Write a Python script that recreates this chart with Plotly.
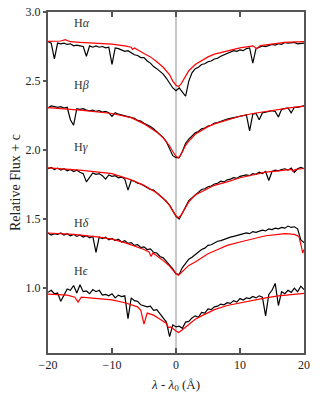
import plotly.graph_objects as go

# wavelength offset grid (Angstrom) for the observed spectra
wave = [-20, -19.5, -19, -18.5, -18, -17.5, -17, -16.5, -16, -15.5,
        -15, -14.5, -14, -13.5, -13, -12.5, -12, -11.5, -11, -10.5,
        -10, -9.5, -9, -8.5, -8, -7.5, -7, -6.5, -6, -5.5,
        -5, -4.5, -4, -3.5, -3, -2.5, -2, -1.5, -1, -0.5,
        0, 0.5, 1, 1.5, 2, 2.5, 3, 3.5, 4, 4.5,
        5, 5.5, 6, 6.5, 7, 7.5, 8, 8.5, 9, 9.5,
        10, 10.5, 11, 11.5, 12, 12.5, 13, 13.5, 14, 14.5,
        15, 15.5, 16, 16.5, 17, 17.5, 18, 18.5, 19, 19.5, 20]

# observed (black)
ha_obs = [2.785, 2.775, 2.66, 2.775, 2.77, 2.775, 2.765, 2.77, 2.755, 2.76,
          2.755, 2.75, 2.68, 2.755, 2.745, 2.755, 2.745, 2.75, 2.74, 2.745,
          2.62, 2.74, 2.735, 2.725, 2.715, 2.72, 2.705, 2.69, 2.685, 2.67,
          2.67, 2.645, 2.63, 2.605, 2.59, 2.57, 2.55, 2.52, 2.48, 2.45,
          2.43, 2.45, 2.42, 2.39, 2.50, 2.56, 2.59, 2.60, 2.62, 2.625,
          2.64, 2.645, 2.66, 2.665, 2.68, 2.69, 2.70, 2.705, 2.72, 2.715,
          2.725, 2.72, 2.735, 2.74, 2.63, 2.735, 2.745, 2.755, 2.75, 2.76,
          2.765, 2.76, 2.77, 2.765, 2.78, 2.775, 2.775, 2.78, 2.77, 2.775, 2.775]
hb_obs = [2.305, 2.32, 2.315, 2.31, 2.315, 2.305, 2.31, 2.22, 2.18, 2.30,
          2.295, 2.30, 2.29, 2.285, 2.29, 2.28, 2.285, 2.275, 2.28, 2.27,
          2.245, 2.27, 2.26, 2.255, 2.25, 2.245, 2.235, 2.23, 2.215, 2.21,
          2.195, 2.185, 2.17, 2.155, 2.135, 2.115, 2.09, 2.06, 2.01, 1.96,
          1.945, 1.945, 1.99, 2.05, 2.08, 2.10, 2.125, 2.135, 2.155, 2.16,
          2.175, 2.18, 2.195, 2.20, 2.21, 2.215, 2.225, 2.23, 2.235, 2.24,
          2.245, 2.25, 2.255, 2.14, 2.26, 2.265, 2.22, 2.27, 2.275, 2.28,
          2.285, 2.28, 2.24, 2.295, 2.30, 2.305, 2.27, 2.31, 2.31, 2.315, 2.32]
hg_obs = [1.865, 1.875, 1.86, 1.87, 1.855, 1.865, 1.85, 1.86, 1.845, 1.855,
          1.84, 1.83, 1.77, 1.80, 1.835, 1.825, 1.83, 1.815, 1.79, 1.82,
          1.81, 1.815, 1.80, 1.805, 1.79, 1.71, 1.78, 1.775, 1.76, 1.755,
          1.74, 1.73, 1.715, 1.71, 1.69, 1.675, 1.655, 1.63, 1.60, 1.56,
          1.52, 1.50, 1.54, 1.59, 1.635, 1.655, 1.68, 1.695, 1.715, 1.72,
          1.735, 1.74, 1.755, 1.76, 1.775, 1.77, 1.785, 1.79, 1.80, 1.795,
          1.81, 1.815, 1.82, 1.815, 1.83, 1.825, 1.84, 1.83, 1.845, 1.78,
          1.845, 1.855, 1.85, 1.86, 1.865, 1.855, 1.87, 1.84, 1.865, 1.875, 1.865]
hd_obs = [1.40, 1.385, 1.395, 1.39, 1.40, 1.385, 1.395, 1.38, 1.39, 1.375,
          1.385, 1.37, 1.38, 1.365, 1.375, 1.26, 1.37, 1.36, 1.37, 1.35,
          1.36, 1.345, 1.355, 1.335, 1.345, 1.325, 1.33, 1.31, 1.315, 1.295,
          1.30, 1.28, 1.285, 1.26, 1.255, 1.23, 1.22, 1.195, 1.17, 1.14,
          1.105, 1.10, 1.15, 1.18, 1.21, 1.225, 1.245, 1.26, 1.28, 1.29,
          1.31, 1.315, 1.33, 1.34, 1.345, 1.355, 1.36, 1.37, 1.375, 1.38,
          1.385, 1.39, 1.40, 1.395, 1.41, 1.405, 1.415, 1.42, 1.415, 1.43,
          1.425, 1.435, 1.43, 1.44, 1.435, 1.45, 1.44, 1.445, 1.43, 1.35, 1.33]
he_obs = [0.97, 0.985, 0.96, 0.965, 0.905, 0.955, 0.995, 0.985, 1.02, 0.965,
          1.025, 0.975, 0.98, 0.96, 0.99, 0.975, 0.985, 0.95, 0.955, 0.945,
          0.96, 0.93, 0.95, 0.94, 0.945, 0.78, 0.93, 0.91, 0.905, 0.88,
          0.875, 0.865, 0.87, 0.84, 0.845, 0.815, 0.79, 0.755, 0.65, 0.735,
          0.72, 0.725, 0.71, 0.755, 0.76, 0.785, 0.80, 0.79, 0.825, 0.82,
          0.85, 0.845, 0.865, 0.87, 0.885, 0.88, 0.895, 0.89, 0.91, 0.90,
          0.925, 0.915, 0.93, 0.925, 0.94, 0.93, 0.945, 0.935, 0.80, 0.955,
          0.985, 1.035, 0.875, 0.975, 0.96, 0.985, 0.97, 1.0, 0.975, 1.015, 0.99]

# model fits (red)
ha_mod_x = [-20, -18, -17.3, -16.5, -15, -12, -10, -8, -7, -6.8, -6.5, -5, -4, -3, -2, -1, -0.5,
            0, 0.4, 0.8, 1.5, 2, 3, 4, 5, 6, 8, 10, 12, 12.6, 13.2, 15, 17, 20]
ha_mod = [2.788, 2.79, 2.80, 2.785, 2.78, 2.775, 2.768, 2.755, 2.745, 2.73, 2.74, 2.70, 2.675,
          2.64, 2.60, 2.545, 2.50, 2.47, 2.46, 2.48, 2.54, 2.575, 2.62, 2.65, 2.675, 2.695,
          2.72, 2.74, 2.755, 2.735, 2.757, 2.77, 2.78, 2.785]
hb_mod_x = [-20, -15, -10, -7, -5, -3, -2, -1, -0.5, 0, 0.4, 0.8, 1.5, 2, 3, 4, 5, 6, 8, 10,
            12, 14, 16, 18, 20]
hb_mod = [2.307, 2.29, 2.265, 2.235, 2.19, 2.13, 2.09, 2.03, 1.99, 1.955, 1.944, 1.97, 2.035,
          2.065, 2.115, 2.145, 2.17, 2.19, 2.22, 2.245, 2.265, 2.28, 2.295, 2.307, 2.318]
hg_mod_x = [-20, -15, -10, -7, -5, -4, -3, -2, -1, -0.5, 0, 0.4, 0.8, 1.5, 2, 3, 4, 5, 6, 8,
            10, 12, 14, 16, 18, 18.3, 18.6, 20]
hg_mod = [1.872, 1.855, 1.83, 1.785, 1.745, 1.72, 1.69, 1.65, 1.60, 1.56, 1.525, 1.51, 1.53,
          1.585, 1.625, 1.675, 1.70, 1.725, 1.745, 1.77, 1.80, 1.82, 1.84, 1.85, 1.86, 1.845,
          1.86, 1.867]
hd_mod_x = [-20, -16, -12, -10, -8, -6, -5, -4.2, -3.9, -3.6, -3, -2, -1, -0.5, 0, 0.4, 0.8,
            1.5, 2, 3, 4, 5, 6, 8, 10, 12, 14, 16, 17, 18.5, 19.2, 19.6, 19.8, 20]
hd_mod = [1.40, 1.39, 1.37, 1.355, 1.33, 1.30, 1.28, 1.262, 1.23, 1.255, 1.235, 1.20, 1.16,
          1.13, 1.105, 1.094, 1.11, 1.145, 1.165, 1.19, 1.22, 1.25, 1.27, 1.31, 1.335, 1.36,
          1.38, 1.39, 1.395, 1.39, 1.375, 1.30, 1.255, 1.28]
he_mod_x = [-20, -17, -15.8, -15.3, -14.8, -12, -10, -8, -6, -5.5, -5, -4.5, -3.5, -2.5, -1.5,
            -1.2, -0.8, 0, 0.4, 1, 2, 3, 4, 5, 6, 8, 10, 12, 14, 16, 18, 20]
he_mod = [0.957, 0.95, 0.935, 0.90, 0.935, 0.925, 0.915, 0.895, 0.865, 0.84, 0.74, 0.82, 0.805,
          0.775, 0.745, 0.715, 0.72, 0.69, 0.679, 0.70, 0.74, 0.775, 0.80, 0.825, 0.845, 0.875,
          0.895, 0.915, 0.93, 0.945, 0.955, 0.962]

line_names = ["H<i>α</i>", "H<i>β</i>", "H<i>γ</i>", "H<i>δ</i>", "H<i>ϵ</i>"]
label_y = [2.92, 2.47, 2.025, 1.47, 1.125]

FONT = "Liberation Serif"

obs = [ha_obs, hb_obs, hg_obs, hd_obs, he_obs]
mods = [(ha_mod_x, ha_mod), (hb_mod_x, hb_mod), (hg_mod_x, hg_mod),
        (hd_mod_x, hd_mod), (he_mod_x, he_mod)]

fig = go.Figure()

for spec, (mx, my) in zip(obs, mods):
    fig.add_trace(go.Scatter(x=wave, y=spec, mode="lines",
                             line=dict(color="black", width=1.2)))
    fig.add_trace(go.Scatter(x=mx, y=my, mode="lines",
                             line=dict(color="red", width=1.2)))

# line centre marker
fig.add_shape(type="line", x0=0, x1=0, y0=0, y1=1, xref="x", yref="paper",
              line=dict(color="#c8c8c8", width=2), layer="below")

for name, ly in zip(line_names, label_y):
    fig.add_annotation(x=-16.2, y=ly, text=name, showarrow=False, xanchor="left",
                       font=dict(family=FONT, size=12, color="#333"))

# page body adds an 8px margin, so the figure is 8px smaller
fig.update_layout(
    width=312, height=392,
    margin=dict(l=40, r=16, t=4, b=47),
    plot_bgcolor="white", paper_bgcolor="white",
    showlegend=False,
    font=dict(family=FONT, size=12, color="#222"),
)
fig.update_xaxes(range=[-20, 20], dtick=10, ticks="inside", ticklen=5, tickwidth=1.5,
                 tickcolor="#555", showline=True, linecolor="#555", linewidth=2,
                 mirror="ticks", showgrid=False, zeroline=False, automargin=False,
                 ticklabeloverflow="allow",
                 title=dict(text="<i>λ</i> - <i>λ</i><sub>0</sub> (Å)", standoff=8,
                            font=dict(family=FONT, size=13)))
fig.update_yaxes(range=[0.531, 3.0], dtick=0.5, tickformat=".1f", ticks="outside",
                 ticklen=3, tickwidth=1.5, tickcolor="#555", showline=True,
                 linecolor="#555", linewidth=2, mirror=True, showgrid=False,
                 zeroline=False, automargin=False, ticklabeloverflow="allow",
                 title=dict(text="Relative Flux + c", standoff=8,
                            font=dict(family=FONT, size=14)))

fig.write_html("out.html")
